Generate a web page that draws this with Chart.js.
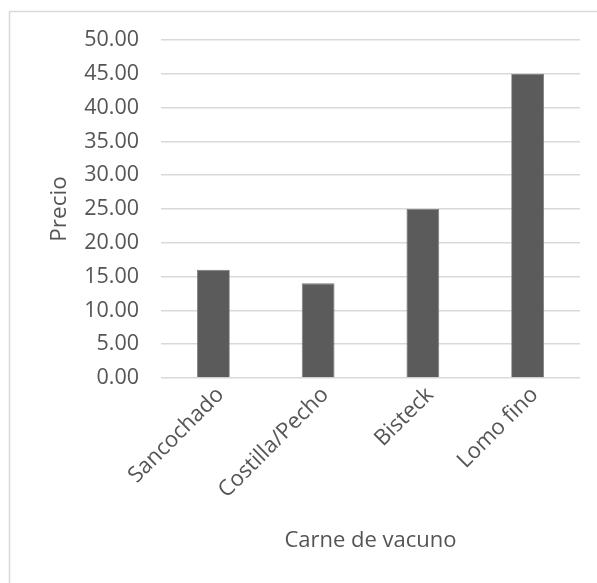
<!DOCTYPE html>
<html>
<head>
<meta charset="utf-8">
<script src="https://cdn.jsdelivr.net/npm/chart.js@4/dist/chart.umd.min.js"></script>
<style>
  html, body { margin: 0; padding: 0; background: #fff; }
  #wrap { position: relative; width: 597px; height: 583px; }
</style>
</head>
<body>
<div id="wrap"><canvas id="c" width="597" height="583"></canvas></div>
<script>
// Precio por corte de carne de vacuno
const categories = ['Sancochado', 'Costilla/Pecho', 'Bisteck', 'Lomo fino'];
const precios = [16, 14, 25, 45];

const FONT = "'Open Sans', sans-serif";
const TEXT = '#555555';

// Marco exterior del gráfico (sólo borde superior e izquierdo visibles)
const frame = {
  id: 'frame',
  beforeDraw(chart) {
    const ctx = chart.ctx;
    ctx.save();
    ctx.strokeStyle = '#d9d9d9';
    ctx.lineWidth = 1.5;
    ctx.beginPath();
    ctx.moveTo(9.5, 583);
    ctx.lineTo(9.5, 11.5);
    ctx.lineTo(597, 11.5);
    ctx.stroke();
    ctx.restore();
  }
};

new Chart(document.getElementById('c'), {
  type: 'bar',
  data: {
    labels: categories,
    datasets: [{
      label: 'Precio',
      data: precios,
      backgroundColor: '#5b5b5b',
      borderColor: '#7a7a7a',
      borderWidth: 0.8,
      categoryPercentage: 1,
      barPercentage: 0.313
    }]
  },
  options: {
    responsive: false,
    animation: false,
    events: [],
    layout: { padding: { left: 11, top: 40, right: 17, bottom: 10 } },
    plugins: { legend: { display: false }, tooltip: { enabled: false } },
    scales: {
      x: {
        grid: { display: false, drawTicks: false },
        border: { display: false },
        ticks: {
          color: TEXT,
          font: { family: FONT, size: 22 },
          minRotation: 45,
          maxRotation: 45,
          autoSkip: false,
          labelOffset: 7,
          padding: 4
        },
        title: {
          display: true,
          text: 'Carne de vacuno',
          color: TEXT,
          font: { family: FONT, size: 22 },
          padding: { top: 0, bottom: 19 }
        },
        afterFit(scale) { scale.height = 195; }
      },
      y: {
        min: 0,
        max: 50,
        grid: { color: '#d9d9d9', lineWidth: 1.5, drawTicks: false },
        border: { display: false },
        ticks: {
          stepSize: 5,
          color: TEXT,
          font: { family: FONT, size: 21.5 },
          padding: 22,
          callback: (v) => Number(v).toFixed(2)
        },
        title: {
          display: true,
          text: 'Precio',
          color: TEXT,
          font: { family: FONT, size: 22.5 },
          padding: { top: 35, bottom: 0 }
        },
        afterFit(scale) { scale.width = 150; }
      }
    }
  },
  plugins: [frame]
});
</script>
</body>
</html>
